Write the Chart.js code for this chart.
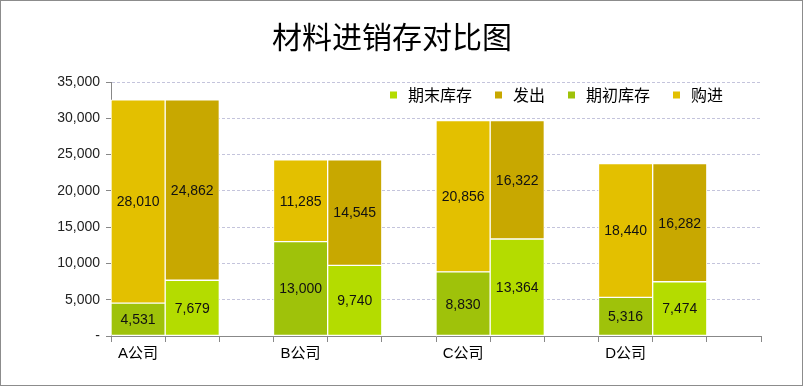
<!DOCTYPE html>
<html>
<head>
<meta charset="utf-8">
<script src="https://cdn.jsdelivr.net/npm/chart.js@4/dist/chart.umd.min.js"></script>
<style>
  body { margin: 0; background: #fff; }
  #box { width: 803px; height: 386px; box-sizing: border-box; border: 1px solid #8c8c8c; }
  canvas { display: block; }
</style>
</head>
<body>
<div id="box"><canvas id="chart" width="801" height="384"></canvas></div>
<script>
// data
const companies = ['A公司', 'B公司', 'C公司', 'D公司'];
const opening  = [4531, 13000, 8830, 5316];    // 期初库存
const purchase = [28010, 11285, 20856, 18440]; // 购进
const closing  = [7679, 9740, 13364, 7474];    // 期末库存
const issued   = [24862, 14545, 16322, 16282]; // 发出
const yTicks = [0, 5000, 10000, 15000, 20000, 25000, 30000, 35000];

// each company gets 3 slots: left bar, right bar, gap
const labels = companies.flatMap(c => [c, '', '']);
function slot(values, offset) {
  const out = new Array(labels.length).fill(null);
  values.forEach((v, i) => { out[i * 3 + offset] = v; });
  return out;
}

const fmt = v => v.toLocaleString('en-US');

// value labels in the middle of each segment
const valueLabels = {
  id: 'valueLabels',
  afterDatasetsDraw(chart) {
    const ctx = chart.ctx;
    ctx.save();
    ctx.font = '14px "Liberation Sans", Arial, sans-serif';
    ctx.fillStyle = '#111';
    ctx.textAlign = 'center';
    ctx.textBaseline = 'middle';
    chart.data.datasets.forEach((ds, di) => {
      chart.getDatasetMeta(di).data.forEach((bar, i) => {
        if (ds.data[i] == null) return;
        const p = bar.getCenterPoint();
        ctx.fillText(fmt(ds.data[i]), p.x, p.y + 1);
      });
    });
    ctx.restore();
  }
};

// legend sitting inside the plot, top right
const innerLegend = {
  id: 'innerLegend',
  afterDraw(chart) {
    const ctx = chart.ctx;
    const area = chart.chartArea;
    ctx.save();
    ctx.font = '16px "Noto Sans CJK SC", sans-serif';
    ctx.textBaseline = 'middle';
    const items = chart.data.datasets.map(ds => ({ text: ds.label, color: ds.backgroundColor, w: ctx.measureText(ds.label).width }));
    const box = 7, gapText = 11, gapItem = 23;
    let total = 0;
    items.forEach((it, i) => { total += box + gapText + it.w + (i < items.length - 1 ? gapItem : 0); });
    let x = area.right - 38 - total;
    const y = area.top + 13;
    items.forEach(it => {
      ctx.fillStyle = it.color;
      ctx.fillRect(x, y - box / 2, box, box);
      x += box + gapText;
      ctx.fillStyle = '#000';
      ctx.fillText(it.text, x, y);
      x += it.w + gapItem;
    });
    ctx.restore();
  }
};

new Chart(document.getElementById('chart'), {
  type: 'bar',
  data: {
    labels: labels,
    datasets: [
      { label: '期末库存', data: slot(closing, 1),  backgroundColor: '#b4dc00' },
      { label: '发出',     data: slot(issued, 1),   backgroundColor: '#c8a800' },
      { label: '期初库存', data: slot(opening, 0),  backgroundColor: '#9fc20a' },
      { label: '购进',     data: slot(purchase, 0), backgroundColor: '#e3c000' }
    ]
  },
  options: {
    responsive: false,
    animation: false,
    layout: { padding: { left: 22, right: 41, top: 0, bottom: 0 } },
    datasets: {
      bar: { borderColor: '#fff', borderWidth: 1, borderSkipped: false, categoryPercentage: 1, barPercentage: 1 }
    },
    plugins: {
      legend: { display: false },
      tooltip: { enabled: false },
      title: {
        display: true,
        text: '材料进销存对比图',
        color: '#000',
        font: { family: '"Noto Sans CJK SC", sans-serif', size: 30, weight: 'normal', lineHeight: 1.2 },
        padding: { top: 18, bottom: 27 }
      }
    },
    scales: {
      x: {
        stacked: true,
        afterFit(scale) { scale.height = 49; },
        border: { color: '#888', width: 1 },
        grid: { display: true, drawOnChartArea: false, offset: true, tickLength: 6, tickColor: '#888' },
        ticks: {
          autoSkip: false, maxRotation: 0, padding: 3, color: '#000',
          font: { family: '"Liberation Sans", "Noto Sans CJK SC", sans-serif', size: 15 }
        }
      },
      y: {
        stacked: true,
        min: 0,
        max: 35000,
        afterFit(scale) { scale.width = 88; },
        afterBuildTicks(scale) { scale.ticks = yTicks.map(v => ({ value: v })); },
        border: { color: '#888', width: 1, dash: [3, 2] },
        grid: { color: '#c4c4dc', tickLength: 5, tickColor: '#888', tickBorderDash: [] },
        ticks: {
          padding: 6, color: '#222',
          font: { family: '"Liberation Sans", Arial, sans-serif', size: 14 },
          callback: v => (v === 0 ? '-' : fmt(v))
        }
      }
    }
  },
  plugins: [valueLabels, innerLegend]
});
</script>
</body>
</html>
